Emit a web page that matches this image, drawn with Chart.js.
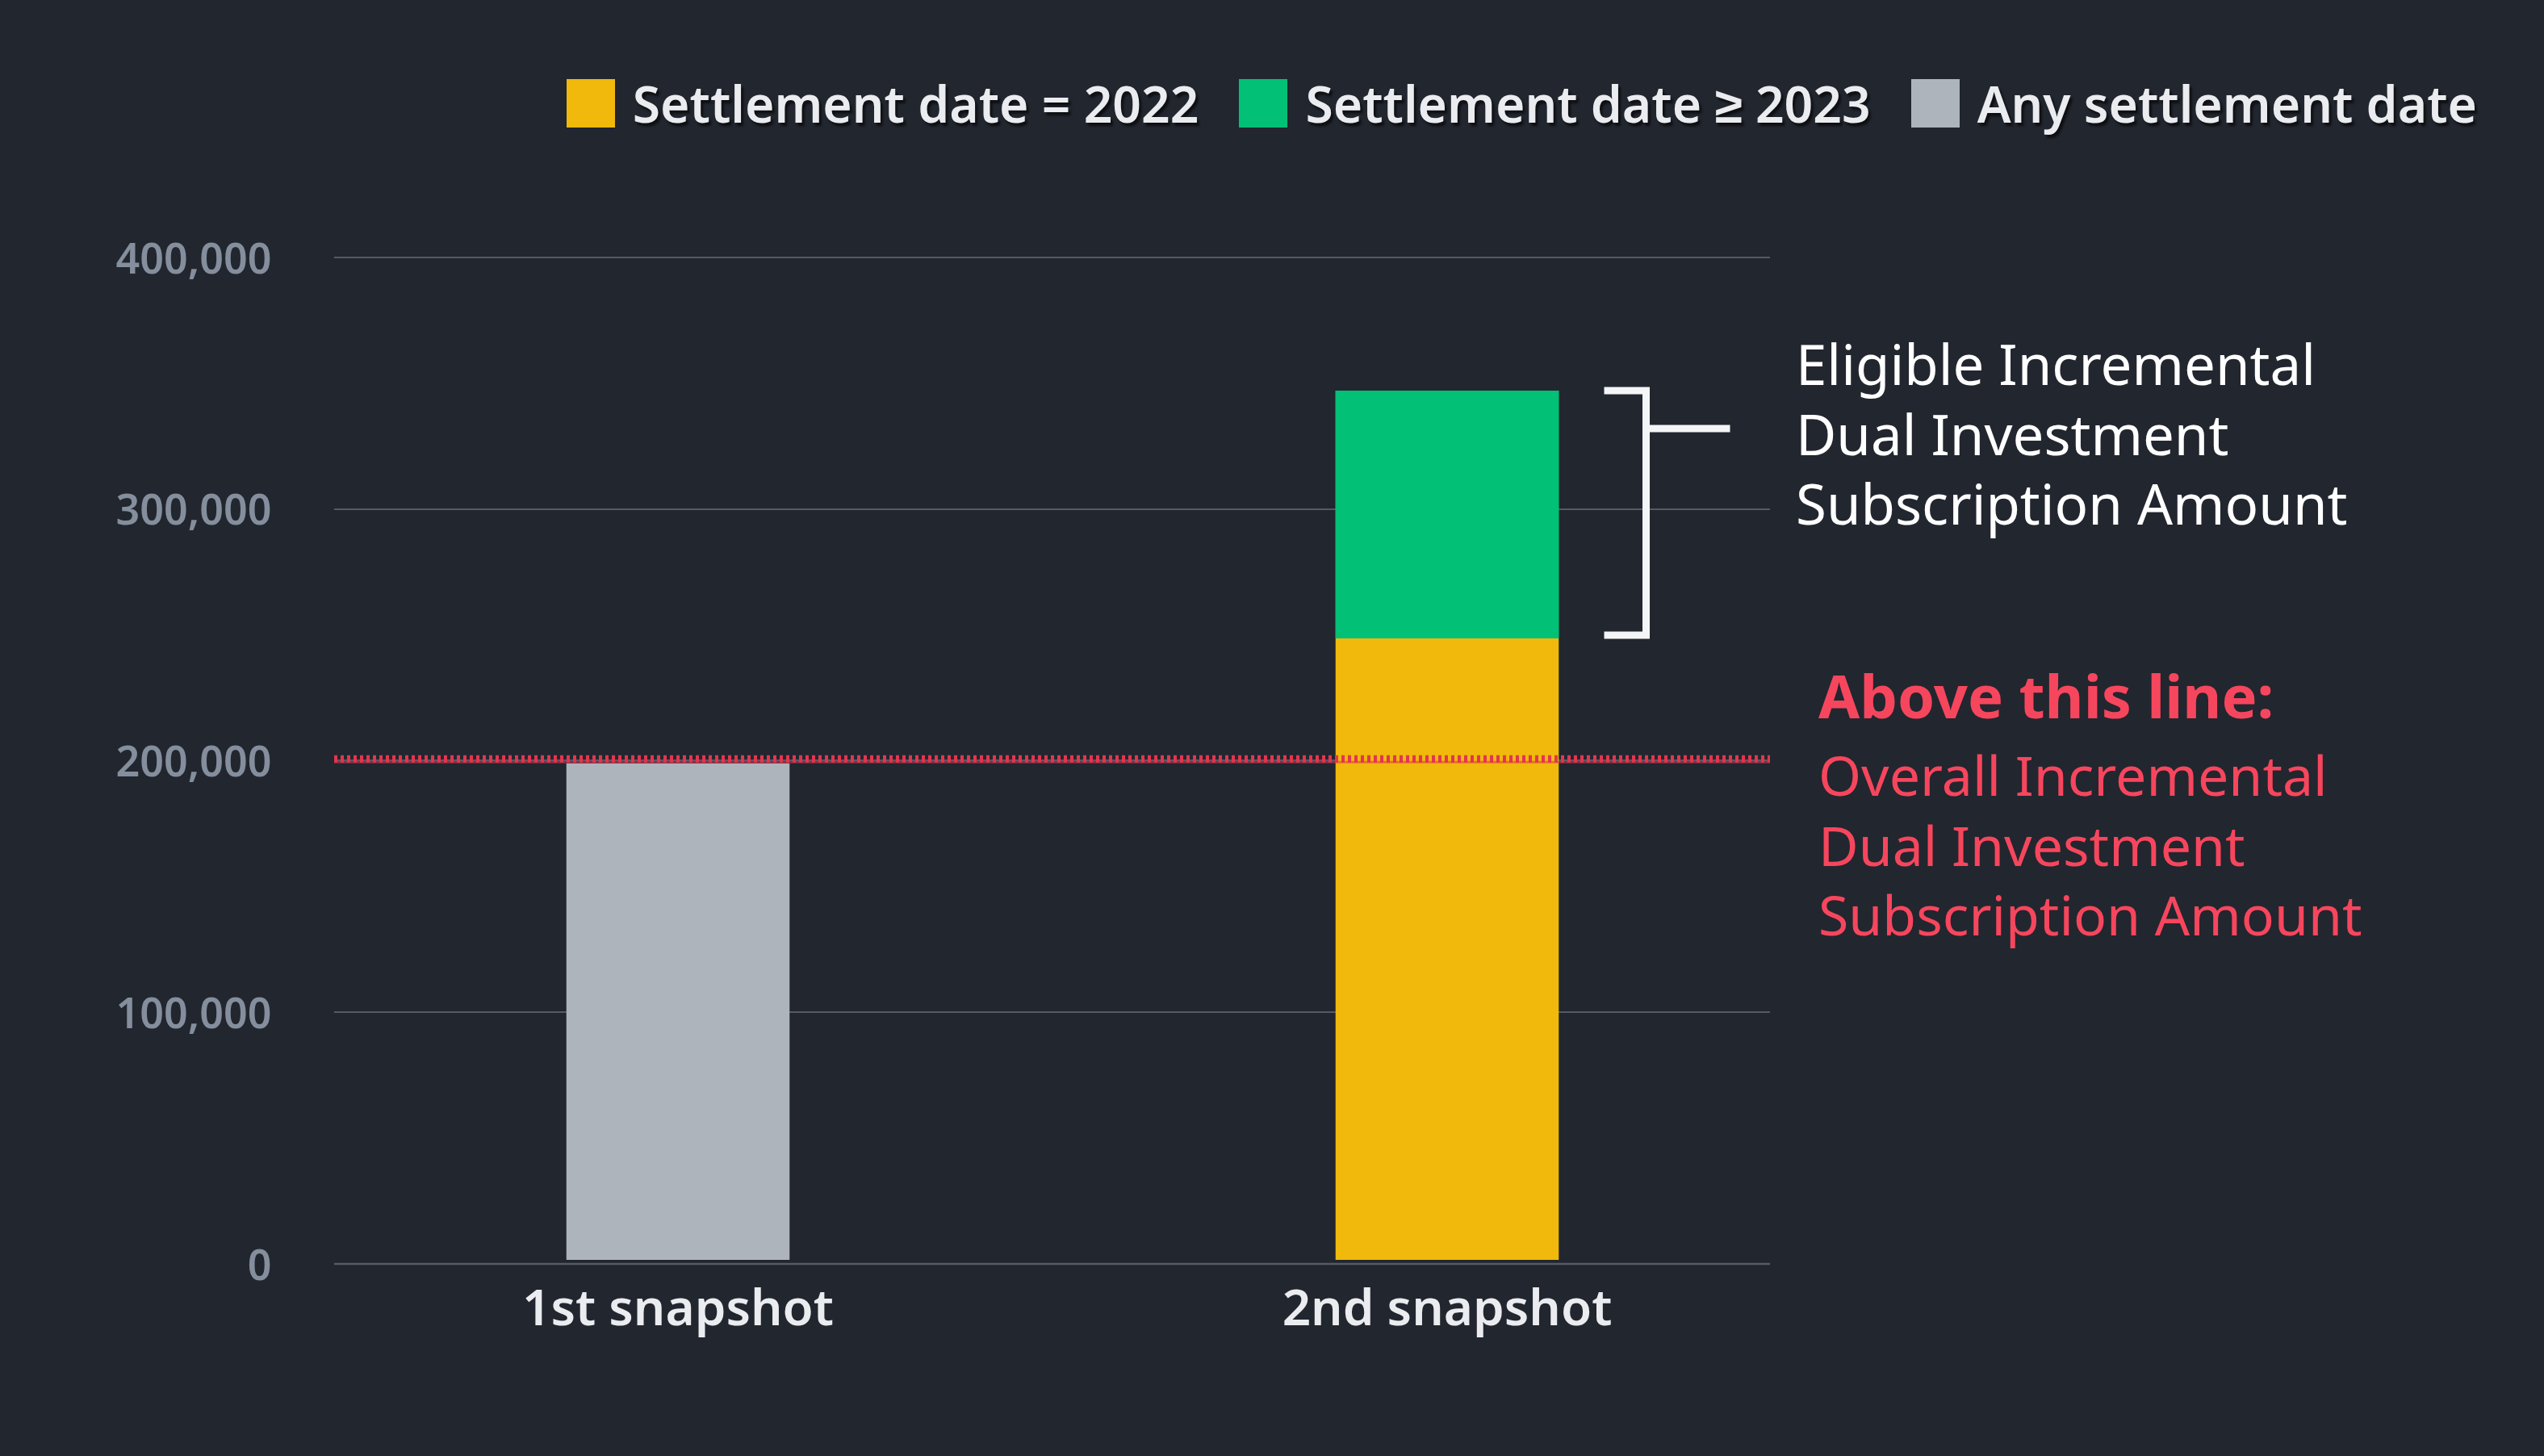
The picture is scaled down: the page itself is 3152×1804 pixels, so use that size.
<!DOCTYPE html>
<html>
<head>
<meta charset="utf-8">
<script src="https://cdn.jsdelivr.net/npm/chart.js@4.4.1/dist/chart.umd.min.js"></script>
<style>
  html, body { margin: 0; padding: 0; background: #22262f; }
  #wrap { position: relative; width: 3152px; height: 1804px; overflow: hidden; background: #22262f; font-family: "Noto Sans", sans-serif; }
  #chart { position: absolute; left: 0; top: 0; }
  #legend { position: absolute; right: 83px; top: 98px; height: 60px; display: flex; align-items: center; gap: 50px; }
  .item { display: flex; align-items: center; }
  .box { width: 60px; height: 60px; margin-right: 22px; }
  .lbl { font-size: 62.4px; font-weight: 600; color: #eaecef; line-height: 60px; white-space: nowrap;
         text-shadow: 3px 4px 3px rgba(0,0,0,0.6); }
  .note { position: absolute; white-space: nowrap; }
  #eligible { left: 2225px; top: 407px; color: #ffffff; font-size: 69px; line-height: 86.5px; }
  #above { left: 2253px; top: 806px; color: #f6465d; font-size: 68px; line-height: 86.5px; }
  #above .head { font-weight: 700; font-size: 74px; line-height: 111px; }
</style>
</head>
<body>
<div id="wrap">
  <canvas id="chart" width="3152" height="1804"></canvas>
  <div id="legend"></div>
  <div class="note" id="eligible">Eligible Incremental<br>Dual Investment<br>Subscription Amount</div>
  <div class="note" id="above"><div class="head">Above this line:</div>Overall Incremental<br>Dual Investment<br>Subscription Amount</div>
</div>
<script>
// ---- data ----
const categories = ['1st snapshot', '2nd snapshot'];
const seriesLabels = ['Settlement date = 2022', 'Settlement date \u2265 2023', 'Any settlement date'];
const settlement2022 = [null, 248500];
const settlement2023Plus = [null, 98500];
const anySettlementDate = [199000, null];
const yTickValues = [0, 100000, 200000, 300000, 400000];
const thresholdValue = 200000;

// ---- styles ----
const BG = '#22262f';
const seriesColors = ['#f0b90b', '#02c076', '#aeb4bc'];
const gridColor = '#555a64';
const redLine = '#e3354f';
const FONT = '"Noto Sans", sans-serif';

const baseGap = { top: 0, left: 0, right: 0, bottom: 5 };

const overlayPlugin = {
  id: 'overlay',
  beforeDatasetsDraw(chart) {
    const { ctx, chartArea, scales: { y } } = chart;
    const x0 = chartArea.left + 50.5, x1 = chartArea.right - 76.5;
    ctx.save();
    ctx.strokeStyle = gridColor;
    ctx.lineWidth = 2;
    yTickValues.forEach(v => {
      if (v === 0) return;
      const py = Math.round(y.getPixelForValue(v));
      ctx.beginPath(); ctx.moveTo(x0, py); ctx.lineTo(x1, py); ctx.stroke();
    });
    ctx.restore();
  },
  afterDatasetsDraw(chart) {
    const { ctx, chartArea, scales: { y } } = chart;
    const x0 = chartArea.left + 50.5, x1 = chartArea.right - 76.5;
    ctx.save();
    // zero line
    ctx.strokeStyle = gridColor;
    ctx.lineWidth = 2.5;
    const pz = Math.round(y.getPixelForValue(0));
    ctx.beginPath(); ctx.moveTo(x0, pz); ctx.lineTo(x1, pz); ctx.stroke();
    // threshold dotted line
    const pt = y.getPixelForValue(thresholdValue) - 2;
    ctx.strokeStyle = 'rgba(227,53,79,0.55)';
    ctx.lineWidth = 3;
    ctx.beginPath(); ctx.moveTo(x0, pt + 4); ctx.lineTo(x1, pt + 4); ctx.stroke();
    ctx.strokeStyle = redLine;
    ctx.lineWidth = 9;
    ctx.setLineDash([4, 4]);
    ctx.beginPath(); ctx.moveTo(x0, pt); ctx.lineTo(x1, pt); ctx.stroke();
    ctx.setLineDash([]);
    // bracket around the green segment
    const el = chart.getDatasetMeta(1).data[1];
    if (el) {
      const left = el.x + el.width / 2 + 56;
      const vx = left + 52;
      const top = el.y;
      const bottom = el.base - 4;
      ctx.strokeStyle = '#f4f5f7';
      ctx.lineWidth = 9;
      ctx.lineJoin = 'miter';
      ctx.beginPath();
      ctx.moveTo(left, top); ctx.lineTo(vx, top); ctx.lineTo(vx, bottom); ctx.lineTo(left, bottom);
      ctx.stroke();
      const mid = top + 47;
      ctx.beginPath(); ctx.moveTo(vx, mid); ctx.lineTo(vx + 104, mid); ctx.stroke();
    }
    ctx.restore();
  }
};

const chart = new Chart(document.getElementById('chart'), {
  type: 'bar',
  data: {
    labels: categories,
    datasets: [
      { label: seriesLabels[0], data: settlement2022, backgroundColor: seriesColors[0],
        borderColor: BG, borderWidth: baseGap, borderSkipped: false },
      { label: seriesLabels[1], data: settlement2023Plus, backgroundColor: seriesColors[1], borderWidth: 0 },
      { label: seriesLabels[2], data: anySettlementDate, backgroundColor: seriesColors[2],
        borderColor: BG, borderWidth: baseGap, borderSkipped: false }
    ]
  },
  options: {
    responsive: false,
    animation: false,
    barPercentage: 0.2907,
    categoryPercentage: 1,
    layout: { padding: { top: 318.7, right: 882.5, bottom: 0, left: 0 } },
    plugins: { legend: { display: false }, tooltip: { enabled: false } },
    scales: {
      x: {
        stacked: true,
        afterFit: s => { s.height = 238; },
        grid: { display: false, drawTicks: false },
        border: { display: false },
        ticks: { color: '#eaecef', padding: 21, font: { family: FONT, size: 62, weight: '600' } }
      },
      y: {
        stacked: true,
        min: 0,
        max: 400000,
        afterBuildTicks: s => { s.ticks = yTickValues.map(v => ({ value: v })); },
        afterFit: s => { s.width = 363.5; },
        grid: { display: false, drawTicks: false },
        border: { display: false },
        ticks: { color: '#848e9c', padding: 27, labelOffset: 5, font: { family: FONT, size: 52, weight: '600' },
                 callback: v => Number(v).toLocaleString('en-US') }
      }
    }
  },
  plugins: [overlayPlugin]
});

// HTML legend built from the chart's datasets
const legend = document.getElementById('legend');
chart.data.datasets.forEach(ds => {
  const item = document.createElement('div');
  item.className = 'item';
  const box = document.createElement('div');
  box.className = 'box';
  box.style.background = ds.backgroundColor;
  const lbl = document.createElement('span');
  lbl.className = 'lbl';
  lbl.textContent = ds.label;
  item.appendChild(box); item.appendChild(lbl);
  legend.appendChild(item);
});
</script>
</body>
</html>
